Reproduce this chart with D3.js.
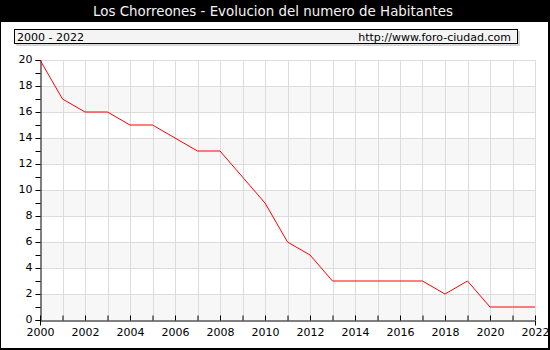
<!DOCTYPE html>
<html>
<head>
<meta charset="utf-8">
<script src="https://cdn.jsdelivr.net/npm/d3@7"></script>
<style>
  html, body { margin: 0; padding: 0; background: #fff; }
  svg { display: block; font-family: "DejaVu Sans", Verdana, sans-serif; }
</style>
</head>
<body>
<svg id="chart" width="550" height="350"></svg>
<script>
// Population of Los Chorreones by year
const years = [2000, 2001, 2002, 2003, 2004, 2005, 2006, 2007, 2008, 2009, 2010,
               2011, 2012, 2013, 2014, 2015, 2016, 2017, 2018, 2019, 2020, 2021, 2022];
const habitantes = [20, 17, 16, 16, 15, 15, 14, 13, 13, 11, 9,
                    6, 5, 3, 3, 3, 3, 3, 2, 3, 1, 1, 1];
const yTicks = [0, 2, 4, 6, 8, 10, 12, 14, 16, 18, 20];
const xTickLabels = [2000, 2002, 2004, 2006, 2008, 2010, 2012, 2014, 2016, 2018, 2020, 2022];

const titleText = "Los Chorreones - Evolucion del numero de Habitantes";
const rangeText = "2000 - 2022";
const siteText = "http://www.foro-ciudad.com";

const W = 550, H = 350;
const m = { left: 40, right: 15, top: 60, bottom: 30 };
const svg = d3.select("#chart");

// outer frame and title band
svg.append("rect").attr("x", 0.5).attr("y", 0.5).attr("width", W - 2).attr("height", H - 2)
  .attr("fill", "#fff").attr("stroke", "#000").attr("stroke-width", 1);
svg.append("rect").attr("x", 0).attr("y", 0).attr("width", W).attr("height", 22).attr("fill", "#000");
svg.append("rect").attr("x", W - 2).attr("y", 0).attr("width", 2).attr("height", H).attr("fill", "#000");
svg.append("rect").attr("x", 0).attr("y", H - 2).attr("width", W).attr("height", 2).attr("fill", "#000");
svg.append("text").attr("x", W / 2 - 2).attr("y", 16).attr("text-anchor", "middle")
  .attr("fill", "#f4f4f4").attr("font-size", 13.4).text(titleText);

// header box with shadow
svg.append("rect").attr("x", 16).attr("y", 31).attr("width", 504).attr("height", 15).attr("fill", "#d8d8d8");
svg.append("rect").attr("x", 14.5).attr("y", 29.5).attr("width", 503).attr("height", 14)
  .attr("fill", "#f4f4f4").attr("stroke", "#000");
svg.append("text").attr("x", 17).attr("y", 41).attr("font-size", 11).attr("fill", "#000").text(rangeText);
svg.append("text").attr("x", 511).attr("y", 41).attr("text-anchor", "end").attr("font-size", 11)
  .attr("fill", "#000").text(siteText);

const x = d3.scaleLinear().domain([2000, 2022]).range([m.left, W - m.right]);
const y = d3.scaleLinear().domain([0, 20]).range([H - m.bottom, m.top]);

// alternating horizontal bands
const bands = yTicks.slice(0, -1).filter(v => (v / 2) % 2 === 0);
svg.append("g").selectAll("rect").data(bands).join("rect")
  .attr("x", x(2000)).attr("width", x(2022) - x(2000))
  .attr("y", d => y(d + 2)).attr("height", d => y(d) - y(d + 2))
  .attr("fill", "#f7f7f7");

// grid lines
const grid = svg.append("g").attr("stroke", "#dcdcdc").attr("stroke-width", 1);
grid.selectAll("line.v").data(years.slice(1)).join("line").attr("class", "v")
  .attr("x1", d => Math.round(x(d)) + 0.5).attr("x2", d => Math.round(x(d)) + 0.5)
  .attr("y1", y(20)).attr("y2", y(0));
grid.selectAll("line.h").data(yTicks.slice(1)).join("line").attr("class", "h")
  .attr("x1", x(2000)).attr("x2", x(2022))
  .attr("y1", d => Math.round(y(d)) + 0.5).attr("y2", d => Math.round(y(d)) + 0.5);

// axes
const yAxis = d3.axisLeft(y).tickValues(yTicks).tickSize(5).tickFormat(d3.format("d"));
const yMinor = d3.axisLeft(y).tickValues(d3.range(1, 20, 2)).tickSize(5).tickFormat("");
const xAxis = d3.axisBottom(x).tickValues(years).tickSize(5)
  .tickFormat(d => xTickLabels.includes(d) ? d : "");

function styleAxis(g) {
  g.select(".domain").attr("stroke", "#000");
  g.selectAll(".tick line").attr("stroke", "#000");
  g.selectAll("text").attr("font-family", "DejaVu Sans, Verdana, sans-serif")
    .attr("font-size", 11).attr("fill", "#000");
}

svg.append("g").attr("transform", `translate(${x(2000) + 0.5},0)`)
  .call(yAxis).call(styleAxis)
  .call(g => g.selectAll(".tick text").attr("x", -8).attr("dy", "0.2em"));
svg.append("g").attr("transform", `translate(${x(2000) + 0.5},0)`)
  .call(yMinor).call(styleAxis).call(g => g.select(".domain").remove());
svg.append("g").attr("transform", `translate(0,${y(0) + 0.5})`)
  .call(xAxis).call(styleAxis)
  .call(g => g.selectAll(".tick line").attr("y1", -5).attr("y2", 0))
  .call(g => g.selectAll(".tick text").attr("y", 8).attr("dy", "0.71em"));

// population line
const line = d3.line().x((d, i) => x(years[i])).y(d => y(d));
svg.append("path").datum(habitantes).attr("d", line)
  .attr("fill", "none").attr("stroke", "#ff0000").attr("stroke-width", 1);
</script>
</body>
</html>
